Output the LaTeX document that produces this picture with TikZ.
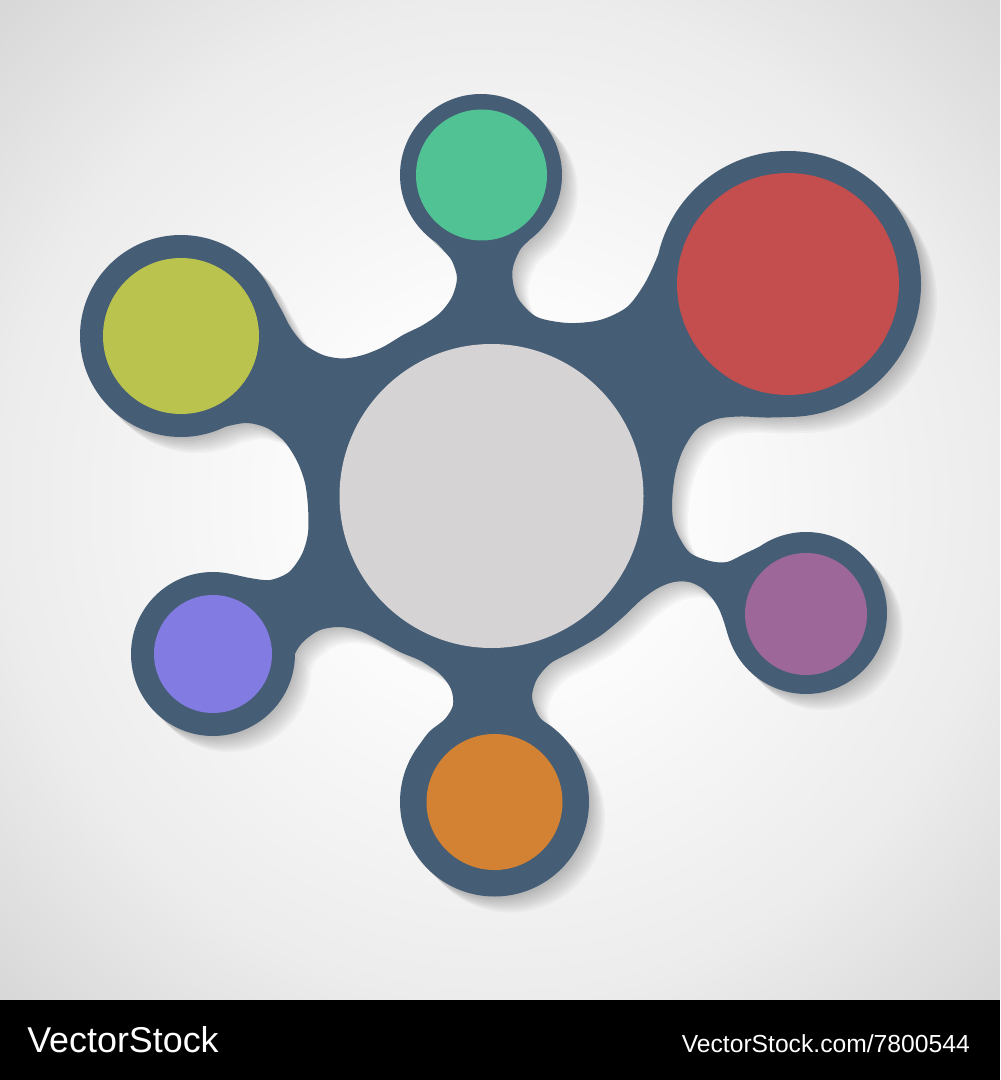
\documentclass[tikz,border=0pt]{standalone}
\usepackage{fontspec}
\setmainfont{Liberation Sans}
\usepackage{tikz}
\definecolor{ringBlue}{RGB}{69,93,117}
\definecolor{hubGray}{RGB}{213,211,212}
\definecolor{dotGreen}{RGB}{80,194,148}
\definecolor{dotRed}{RGB}{196,77,77}
\definecolor{dotYellow}{RGB}{187,195,79}
\definecolor{dotBlue}{RGB}{130,123,226}
\definecolor{dotMauve}{RGB}{157,104,153}
\definecolor{dotOrange}{RGB}{210,130,50}
\definecolor{bgIn}{RGB}{251,251,251}
\definecolor{bgMid}{RGB}{236,236,236}
\definecolor{bgOut}{RGB}{214,214,214}
\pgfdeclareradialshading{bgshade}{\pgfpoint{0bp}{0bp}}{color(0bp)=(bgIn); color(10bp)=(bgIn); color(25bp)=(bgMid); color(36bp)=(bgOut); color(50bp)=(bgOut)}

% outline of the dark connector blob: necks between the rings, then the rings
\newcommand{\blobpath}{(481,175)
 -- plot[smooth] coordinates {(543.0,227.1) (529.7,239.7) (520,250) (513,267) (513,283) (519,300) (537,317) (568,323) (600,320) (627,307) (645,283) (658.4,254.1) (665.6,232)}
 -- (788,284)
 -- plot[smooth] coordinates {(811.1,415) (788,417) (765,417.5) (740,416.5) (717,419) (697,429) (683,450) (675,475) (672,505) (675,528) (689,552) (710,561) (727,562) (744,554) (759.5,546.6) (775.7,537.9)}
 -- (806,613)
 -- plot[smooth] coordinates {(765.5,683.1) (744,665.1) (730.9,643.3) (724,622) (719,609) (712,598) (702,588) (689,582) (674,582) (658,588) (641,600) (622,618) (600,636) (574,651) (551,663) (537,679) (532,697) (538,715) (547.9,725) (563.9,739.1)}
 -- (494.5,802)
 -- plot[smooth] coordinates {(408.8,762.3) (419.9,744.1) (430,731) (445,719) (453,705) (451,689) (440,674) (421,661) (400,652) (380,641) (360,631) (340,627) (320,630) (304,641) (295,654) (293.2,671)}
 -- (213,654)
 -- plot[smooth] coordinates {(213,572) (230,573.8) (250,578) (270,580) (289,572) (302,554) (308,533) (308,507) (305,483) (297,461) (284,441) (267,428) (247,423) (225.3,426.8) (205.4,434)}
 -- (181,336)
 -- plot[smooth] coordinates {(263.7,278.1) (274,296.5) (282,311) (291,328) (304,344) (323,355) (343,358.5) (363,355) (383,347) (403,335) (423,325) (440,313) (452,297) (457,278) (452,261) (444,251) (435.7,242.2) (422.7,231.3)}
 -- cycle
 (481,175) circle[radius=81] (788,284) circle[radius=133] (806,613) circle[radius=81]
 (494.5,802) circle[radius=94.5] (213,654) circle[radius=82] (181,336) circle[radius=101]}

\begin{document}
\begin{tikzpicture}[x=0.75pt,y=0.75pt,yscale=-1,xscale=1,
    shadowfill/.style={fill=black,opacity=0.03},
    disc/.style={draw=none},
    credit/.style={anchor=base,inner sep=0pt,text=white}]
		\useasboundingbox (0,0) rectangle (1000,1080);

		%Background [id:bg]
		\shade[shading=bgshade] (0,0) rectangle (1000,1000);
		\fill[black] (0,1000) rectangle (1000,1080);

		%Soft shadow of the blob
		\foreach \s in {2,4,...,16}{
			\fill[shadowfill,shift={(\s,\s)}] \blobpath;
		}
		%Blob
		\fill[ringBlue] \blobpath;

		%Shape: Circle [id:hub]
		\fill[disc,fill=hubGray] (491.5,496) circle[radius=152];
		%Shape: Circle [id:green]
		\fill[disc,fill=dotGreen] (481.5,175) circle[radius=65.5];
		%Shape: Circle [id:red]
		\fill[disc,fill=dotRed] (788,284) circle[radius=111];
		%Shape: Circle [id:mauve]
		\fill[disc,fill=dotMauve] (806,614) circle[radius=61];
		%Shape: Circle [id:orange]
		\fill[disc,fill=dotOrange] (494.5,802) circle[radius=68];
		%Shape: Circle [id:blue]
		\fill[disc,fill=dotBlue] (213,654) circle[radius=59];
		%Shape: Circle [id:yellow]
		\fill[disc,fill=dotYellow] (181,336) circle[radius=78];

		% Text Node
		\node[credit,anchor=base west,font=\fontsize{26.9}{30}\selectfont] (brand) at (27,1052) {VectorStock};
		% Text Node
		\node[credit,anchor=base east,font=\fontsize{18.5}{22}\selectfont] (imageid) at (970,1052) {VectorStock.com/7800544};

\end{tikzpicture}
\end{document}
